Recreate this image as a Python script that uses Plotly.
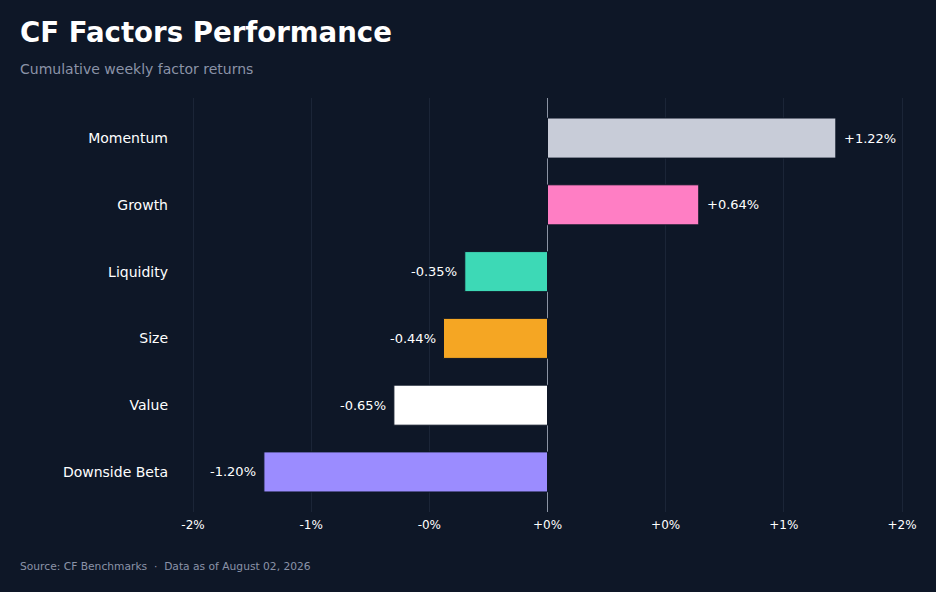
import plotly.graph_objects as go

# data
factors = ['Momentum', 'Growth', 'Liquidity', 'Size', 'Value', 'Downside Beta']
returns = [1.22, 0.64, -0.35, -0.44, -0.65, -1.20]
bar_colors = ['#c8ccd8', '#ff7ec4', '#3dd9b6', '#f5a623', '#ffffff', '#9b8cff']
tick_vals = [-1.5, -1.0, -0.5, 0.0, 0.5, 1.0, 1.5]
tick_text = ['-2%', '-1%', '-0%', '+0%', '+0%', '+1%', '+2%']

BG = '#0e1727'
FONT = 'DejaVu Sans'

fig = go.Figure(go.Bar(
    x=returns,
    y=factors,
    orientation='h',
    marker=dict(color=bar_colors, line=dict(color=BG, width=1)),
    hovertemplate='%{y}: %{x:+.2f}%<extra></extra>',
))

# value labels just past the end of each bar
labels = []
for f, v in zip(factors, returns):
    labels.append(dict(
        x=v, y=f, xref='x', yref='y',
        text=f'{v:+.2f}%',
        xanchor='left' if v >= 0 else 'right',
        xshift=6 if v >= 0 else -6,
        showarrow=False,
        font=dict(size=13, color='#ffffff', family=FONT),
    ))

fig.update_layout(
    width=936,
    height=592,
    paper_bgcolor=BG,
    plot_bgcolor=BG,
    margin=dict(l=180, r=21, t=98, b=80),
    font=dict(family=FONT, color='#ffffff'),
    showlegend=False,
    bargap=0.4,
    title=dict(
        text='<b>CF Factors Performance</b>',
        x=20 / 936, xanchor='left',
        y=1 - 32 / 592, yanchor='middle',
        font=dict(size=27.6, color='#ffffff', family=FONT),
    ),
    xaxis=dict(
        range=[-1.555, 1.555],
        tickvals=tick_vals,
        ticktext=tick_text,
        tickfont=dict(size=12, color='#ffffff'),
        ticklabelstandoff=4,
        showgrid=True,
        gridcolor='#1b2537',
        gridwidth=1,
        zeroline=True,
        zerolinecolor='#8a93a3',
        zerolinewidth=1,
        showline=False,
        fixedrange=True,
    ),
    yaxis=dict(
        categoryorder='array',
        categoryarray=factors[::-1],
        range=[-0.6, 5.6],
        tickfont=dict(size=14, color='#ffffff'),
        ticklabelstandoff=11,
        showgrid=False,
        zeroline=False,
        fixedrange=True,
    ),
    annotations=labels + [
        dict(
            text='Cumulative weekly factor returns',
            xref='paper', yref='paper',
            x=(18 - 180) / 735, y=(512 - 69) / 414,
            xanchor='left', yanchor='middle',
            showarrow=False,
            font=dict(size=14, color='#8b93a7', family=FONT),
        ),
        dict(
            text='Source: CF Benchmarks  ·  Data as of August 02, 2026',
            xref='paper', yref='paper',
            x=(18 - 180) / 735, y=(512 - 566) / 414,
            xanchor='left', yanchor='middle',
            showarrow=False,
            font=dict(size=10.7, color='#8b93a7', family=FONT),
        ),
    ],
)

fig.write_html('out.html', config={'displayModeBar': False},
               post_script="document.body.style.margin='0';")
